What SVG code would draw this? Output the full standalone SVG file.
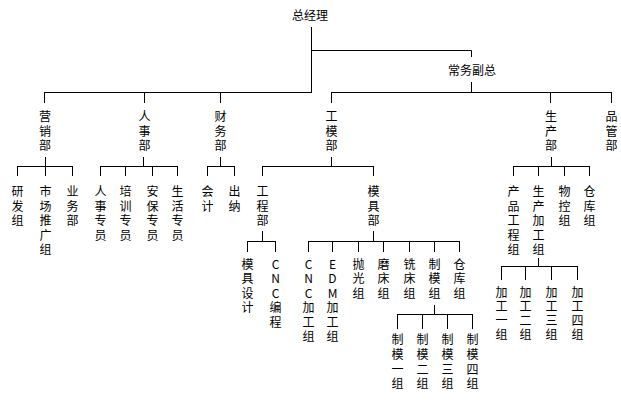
<svg xmlns="http://www.w3.org/2000/svg" width="621" height="408" viewBox="0 0 621 408">
<style>
.t{font-family:"Noto Sans CJK SC","Liberation Sans",sans-serif;font-size:12px;text-anchor:middle;fill:#000}
.c{stroke:#000;stroke-width:1;fill:none;stroke-linecap:square}
</style>
<rect width="621" height="408" fill="#fff"/>
<g id="connectors" class="c">
<path d="M311.5 27.5V92.5M311.5 50.5H471.5V56.5M471.5 82.5V92.5M44.5 92.5H311.5M331.5 92.5H611.5M44.5 92.5V102.5M144.5 92.5V102.5M220.5 92.5V102.5M331.5 92.5V102.5M550.5 92.5V102.5M611.5 92.5V102.5"/>
<path d="M45.5 157.5V166.5M17.5 166.5H72.5M17.5 166.5V175.5M45.5 166.5V175.5M72.5 166.5V175.5"/>
<path d="M143.5 157.5V166.5M100.5 166.5H177.5M100.5 166.5V175.5M125.5 166.5V175.5M152.5 166.5V175.5M177.5 166.5V175.5"/>
<path d="M220.5 157.5V166.5M207.5 166.5H234.5M207.5 166.5V175.5M234.5 166.5V175.5"/>
<path d="M331.5 157.5V166.5M262.5 166.5H373.5M262.5 166.5V175.5M373.5 166.5V175.5"/>
<path d="M551.5 157.5V166.5M513.5 166.5H589.5M513.5 166.5V175.5M538.5 166.5V175.5M564.5 166.5V175.5M589.5 166.5V175.5"/>
<path d="M262.5 231.5V241.5M247.5 241.5H275.5M247.5 241.5V251.5M275.5 241.5V251.5"/>
<path d="M373.5 231.5V241.5M308.5 241.5H459.5M308.5 241.5V251.5M332.5 241.5V251.5M358.5 241.5V251.5M383.5 241.5V251.5M409.5 241.5V251.5M434.5 241.5V251.5M459.5 241.5V251.5"/>
<path d="M538.5 258.5V266.5M501.5 266.5H577.5M501.5 266.5V279.5M525.5 266.5V279.5M551.5 266.5V279.5M577.5 266.5V279.5"/>
<path d="M434.5 305.5V314.5M397.5 314.5H472.5M397.5 314.5V328.5M422.5 314.5V328.5M447.5 314.5V328.5M472.5 314.5V328.5"/>
</g>
<g id="n-zongjingli"><text class="t" x="310" y="19.5">总经理</text></g>
<g id="n-changwu"><text class="t" x="472" y="74.5">常务副总</text></g>
<g id="n-yingxiao"><text class="t"><tspan x="45" y="121">营</tspan><tspan x="45" y="135.5">销</tspan><tspan x="45" y="150">部</tspan></text></g>
<g id="n-renshi"><text class="t"><tspan x="144.5" y="121">人</tspan><tspan x="144.5" y="135.5">事</tspan><tspan x="144.5" y="150">部</tspan></text></g>
<g id="n-caiwu"><text class="t"><tspan x="220.5" y="121">财</tspan><tspan x="220.5" y="135.5">务</tspan><tspan x="220.5" y="150">部</tspan></text></g>
<g id="n-gongmo"><text class="t"><tspan x="331.5" y="121">工</tspan><tspan x="331.5" y="135.5">模</tspan><tspan x="331.5" y="150">部</tspan></text></g>
<g id="n-shengchan"><text class="t"><tspan x="551" y="121">生</tspan><tspan x="551" y="135.5">产</tspan><tspan x="551" y="150">部</tspan></text></g>
<g id="n-pinguan"><text class="t"><tspan x="611.5" y="121">品</tspan><tspan x="611.5" y="135.5">管</tspan><tspan x="611.5" y="150">部</tspan></text></g>
<g id="n-yanfa"><text class="t"><tspan x="17.5" y="196">研</tspan><tspan x="17.5" y="210.5">发</tspan><tspan x="17.5" y="225">组</tspan></text></g>
<g id="n-shichang"><text class="t"><tspan x="45.5" y="196">市</tspan><tspan x="45.5" y="210.5">场</tspan><tspan x="45.5" y="225">推</tspan><tspan x="45.5" y="239.5">广</tspan><tspan x="45.5" y="254">组</tspan></text></g>
<g id="n-yewu"><text class="t"><tspan x="72.5" y="196">业</tspan><tspan x="72.5" y="210.5">务</tspan><tspan x="72.5" y="225">部</tspan></text></g>
<g id="n-renshizy"><text class="t"><tspan x="100.5" y="196">人</tspan><tspan x="100.5" y="210.5">事</tspan><tspan x="100.5" y="225">专</tspan><tspan x="100.5" y="239.5">员</tspan></text></g>
<g id="n-peixun"><text class="t"><tspan x="125.5" y="196">培</tspan><tspan x="125.5" y="210.5">训</tspan><tspan x="125.5" y="225">专</tspan><tspan x="125.5" y="239.5">员</tspan></text></g>
<g id="n-anbao"><text class="t"><tspan x="152.5" y="196">安</tspan><tspan x="152.5" y="210.5">保</tspan><tspan x="152.5" y="225">专</tspan><tspan x="152.5" y="239.5">员</tspan></text></g>
<g id="n-shenghuo"><text class="t"><tspan x="177.5" y="196">生</tspan><tspan x="177.5" y="210.5">活</tspan><tspan x="177.5" y="225">专</tspan><tspan x="177.5" y="239.5">员</tspan></text></g>
<g id="n-kuaiji"><text class="t"><tspan x="207.5" y="196">会</tspan><tspan x="207.5" y="210.5">计</tspan></text></g>
<g id="n-chuna"><text class="t"><tspan x="234.5" y="196">出</tspan><tspan x="234.5" y="210.5">纳</tspan></text></g>
<g id="n-gongcheng"><text class="t"><tspan x="262.5" y="196">工</tspan><tspan x="262.5" y="210.5">程</tspan><tspan x="262.5" y="225">部</tspan></text></g>
<g id="n-moju"><text class="t"><tspan x="373.5" y="196">模</tspan><tspan x="373.5" y="210.5">具</tspan><tspan x="373.5" y="225">部</tspan></text></g>
<g id="n-chanpin"><text class="t"><tspan x="513.5" y="196">产</tspan><tspan x="513.5" y="210.5">品</tspan><tspan x="513.5" y="225">工</tspan><tspan x="513.5" y="239.5">程</tspan><tspan x="513.5" y="254">组</tspan></text></g>
<g id="n-scjg"><text class="t"><tspan x="538.5" y="196">生</tspan><tspan x="538.5" y="210.5">产</tspan><tspan x="538.5" y="225">加</tspan><tspan x="538.5" y="239.5">工</tspan><tspan x="538.5" y="254">组</tspan></text></g>
<g id="n-wukong"><text class="t"><tspan x="564.5" y="196">物</tspan><tspan x="564.5" y="210.5">控</tspan><tspan x="564.5" y="225">组</tspan></text></g>
<g id="n-cangku1"><text class="t"><tspan x="589.5" y="196">仓</tspan><tspan x="589.5" y="210.5">库</tspan><tspan x="589.5" y="225">组</tspan></text></g>
<g id="n-mojusheji"><text class="t"><tspan x="247.5" y="268.5">模</tspan><tspan x="247.5" y="283">具</tspan><tspan x="247.5" y="297.5">设</tspan><tspan x="247.5" y="312">计</tspan></text></g>
<g id="n-cncbc"><text class="t"><tspan x="275.5" y="268.5">C</tspan><tspan x="275.5" y="283">N</tspan><tspan x="275.5" y="297.5">C</tspan><tspan x="275.5" y="312">编</tspan><tspan x="275.5" y="326.5">程</tspan></text></g>
<g id="n-cncjg"><text class="t"><tspan x="308.5" y="268.5">C</tspan><tspan x="308.5" y="283">N</tspan><tspan x="308.5" y="297.5">C</tspan><tspan x="308.5" y="312">加</tspan><tspan x="308.5" y="326.5">工</tspan><tspan x="308.5" y="341">组</tspan></text></g>
<g id="n-edmjg"><text class="t"><tspan x="332.5" y="268.5">E</tspan><tspan x="332.5" y="283">D</tspan><tspan x="332.5" y="297.5">M</tspan><tspan x="332.5" y="312">加</tspan><tspan x="332.5" y="326.5">工</tspan><tspan x="332.5" y="341">组</tspan></text></g>
<g id="n-paoguang"><text class="t"><tspan x="358.5" y="268.5">抛</tspan><tspan x="358.5" y="283">光</tspan><tspan x="358.5" y="297.5">组</tspan></text></g>
<g id="n-mochuang"><text class="t"><tspan x="383.5" y="268.5">磨</tspan><tspan x="383.5" y="283">床</tspan><tspan x="383.5" y="297.5">组</tspan></text></g>
<g id="n-xichuang"><text class="t"><tspan x="409.5" y="268.5">铣</tspan><tspan x="409.5" y="283">床</tspan><tspan x="409.5" y="297.5">组</tspan></text></g>
<g id="n-zhimo"><text class="t"><tspan x="434.5" y="268.5">制</tspan><tspan x="434.5" y="283">模</tspan><tspan x="434.5" y="297.5">组</tspan></text></g>
<g id="n-cangku2"><text class="t"><tspan x="459.5" y="268.5">仓</tspan><tspan x="459.5" y="283">库</tspan><tspan x="459.5" y="297.5">组</tspan></text></g>
<g id="n-jg1"><text class="t"><tspan x="501.5" y="296.5">加</tspan><tspan x="501.5" y="310.5">工</tspan><tspan x="501.5" y="324.5">一</tspan><tspan x="501.5" y="338.5">组</tspan></text></g>
<g id="n-jg2"><text class="t"><tspan x="525.5" y="296.5">加</tspan><tspan x="525.5" y="310.5">工</tspan><tspan x="525.5" y="324.5">二</tspan><tspan x="525.5" y="338.5">组</tspan></text></g>
<g id="n-jg3"><text class="t"><tspan x="551.5" y="296.5">加</tspan><tspan x="551.5" y="310.5">工</tspan><tspan x="551.5" y="324.5">三</tspan><tspan x="551.5" y="338.5">组</tspan></text></g>
<g id="n-jg4"><text class="t"><tspan x="577.5" y="296.5">加</tspan><tspan x="577.5" y="310.5">工</tspan><tspan x="577.5" y="324.5">四</tspan><tspan x="577.5" y="338.5">组</tspan></text></g>
<g id="n-zm1"><text class="t"><tspan x="397.5" y="343.5">制</tspan><tspan x="397.5" y="358.5">模</tspan><tspan x="397.5" y="373.5">一</tspan><tspan x="397.5" y="388">组</tspan></text></g>
<g id="n-zm2"><text class="t"><tspan x="422.5" y="343.5">制</tspan><tspan x="422.5" y="358.5">模</tspan><tspan x="422.5" y="373.5">二</tspan><tspan x="422.5" y="388">组</tspan></text></g>
<g id="n-zm3"><text class="t"><tspan x="447.5" y="343.5">制</tspan><tspan x="447.5" y="358.5">模</tspan><tspan x="447.5" y="373.5">三</tspan><tspan x="447.5" y="388">组</tspan></text></g>
<g id="n-zm4"><text class="t"><tspan x="472.5" y="343.5">制</tspan><tspan x="472.5" y="358.5">模</tspan><tspan x="472.5" y="373.5">四</tspan><tspan x="472.5" y="388">组</tspan></text></g>
</svg>
